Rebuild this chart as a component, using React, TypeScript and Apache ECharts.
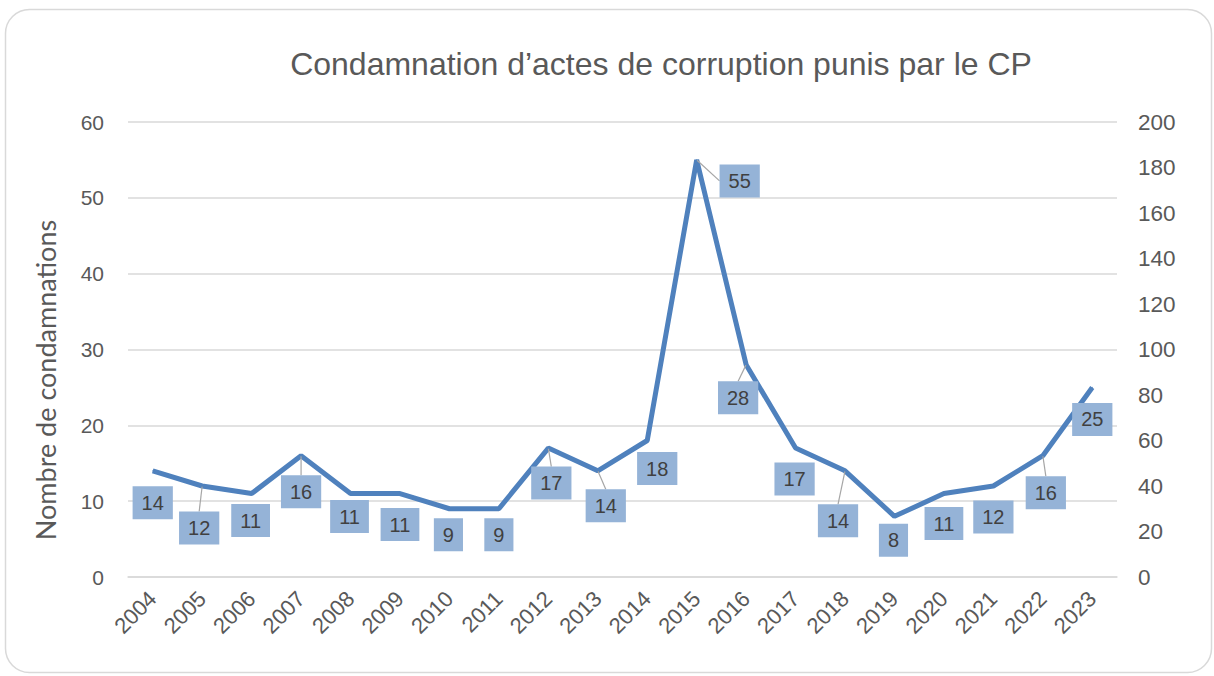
import React, { useEffect, useRef } from "react";
import * as echarts from "echarts";

const years = ["2004","2005","2006","2007","2008","2009","2010","2011","2012","2013","2014","2015","2016","2017","2018","2019","2020","2021","2022","2023"];
const condamnations = [14, 12, 11, 16, 11, 11, 9, 9, 17, 14, 18, 55, 28, 17, 14, 8, 11, 12, 16, 25];
const leftTicks = { min: 0, max: 60, interval: 10 };
const rightTicks = { min: 0, max: 200, interval: 20 };
const chartTitle = "Condamnation d’actes de corruption punis par le CP";
const yName = "Nombre de condamnations";

// label displacement (px) from the data point, and whether a leader line is drawn
const labelShift: [number, number][] = [
  [0, 32], [-3, 42], [-1, 27], [0, 36], [-1, 23], [0, 31], [-1, 26], [0, 26],
  [3, 35], [8, 35], [10, 28], [43, 21], [-8, 33], [-1, 31], [-7, 50], [-1, 24],
  [0, 30], [0, 31], [3, 37], [0, 32],
];
const leader = [false, true, false, true, false, false, false, false, true, true, false, true, true, false, true, false, false, false, true, false];

export default function App() {
  const ref = useRef<HTMLDivElement>(null);
  useEffect(() => {
    document.body.style.margin = "0";
    const chart = echarts.init(ref.current!, undefined, { renderer: "svg" });
    const font = "'Liberation Sans', Arial, sans-serif";
    chart.setOption({
      animation: false,
      backgroundColor: "#ffffff",
      title: {
        text: chartTitle,
        left: 656,
        textAlign: "center",
        top: 43,
        textStyle: { fontFamily: font, fontSize: 32, fontWeight: "normal", color: "#595959" },
      },
      graphic: [
        {
          type: "rect",
          shape: { x: 5.5, y: 9.5, width: 1206, height: 663, r: 24 },
          style: { fill: "none", stroke: "#d9d9d9", lineWidth: 1.5 },
          silent: true,
        },
        {
          type: "text",
          x: 45,
          y: 380,
          rotation: Math.PI / 2,
          style: {
            text: yName,
            fontFamily: "Lato, 'Liberation Sans', sans-serif",
            fontSize: 27,
            fill: "#595959",
            align: "center",
            verticalAlign: "middle",
          },
        },
      ],
      grid: { left: 128, right: 97, top: 122, bottom: 99, containLabel: false },
      xAxis: {
        type: "category",
        data: years,
        boundaryGap: true,
        axisLine: { lineStyle: { color: "#d9d9d9", width: 1.5 } },
        axisTick: { show: false },
        axisLabel: {
          rotate: 45,
          margin: 18,
          fontFamily: font,
          fontSize: 22,
          color: "#595959",
          interval: 0,
        },
      },
      yAxis: [
        {
          type: "value",
          ...leftTicks,
          axisLine: { show: false },
          axisTick: { show: false },
          splitLine: { lineStyle: { color: "#d9d9d9", width: 1.5 } },
          axisLabel: { fontFamily: font, fontSize: 21, color: "#595959", margin: 24 },
        },
        {
          type: "value",
          position: "right",
          ...rightTicks,
          axisLine: { show: false },
          axisTick: { show: false },
          splitLine: { show: false },
          axisLabel: { fontFamily: font, fontSize: 22.5, color: "#595959", margin: 21 },
        },
      ],
      series: [
        {
          type: "line",
          yAxisIndex: 0,
          data: condamnations.map((v, i) => ({
            value: v,
            labelLine: { show: leader[i] },
          })),
          symbol: "circle",
          symbolSize: 1,
          showSymbol: true,
          lineStyle: { color: "#4f81bd", width: 5 },
          itemStyle: { color: "#4f81bd" },
          label: {
            show: true,
            position: "inside",
            fontFamily: font,
            fontSize: 20,
            color: "#404040",
            backgroundColor: "#95b3d7",
            padding: [7, 9, 6, 9],
          },
          labelLine: { show: false, lineStyle: { color: "#a6a6a6", width: 1.2 } },
          labelLayout: (p: any) => ({
            dx: labelShift[p.dataIndex][0],
            dy: labelShift[p.dataIndex][1],
          }),
          z: 3,
        },
      ],
    });
    return () => chart.dispose();
  }, []);
  return <div ref={ref} style={{ width: 1214, height: 676 }} />;
}
